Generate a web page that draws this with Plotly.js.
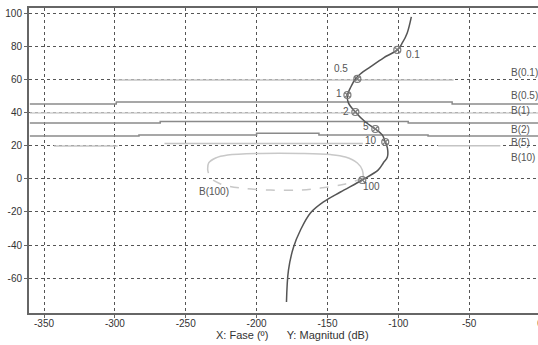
<!DOCTYPE html>
<html>
<head>
<meta charset="utf-8">
<script src="https://cdn.plot.ly/plotly-3.0.1.min.js"></script>
<style>
html,body{margin:0;padding:0;background:#fff;overflow:hidden;}
#chart{width:545px;height:345px;}
</style>
</head>
<body>
<div id="chart"></div>
<script>
// Nichols curve (phase in degrees, magnitude in dB)
const curvePhase = [-90.8,-93.7,-97.2,-100.7,-110.6,-119.7,-126.8,-130.3,-133.8,-135.9,-135.2,-130.3,-123.2,-116.2,-111.3,-109.2,-107.7,-107.7,-110.6,-114.1,-125.4,-140.8,-152.8,-162.0,-169.0,-173.9,-177.5,-178.9];
const curveMag   = [98.2,88.5,82.4,78.2,73.3,67.9,63.6,60.6,55.2,50.9,46.1,40.6,34.5,30.3,26.7,22.4,18.8,13.3,9.7,5.5,-0.6,-7.9,-13.9,-20.6,-30.9,-41.2,-55.2,-74.5];

// frequency markers
const freqLabels = ["0.1","0.5","1","2","5","10","100"];
const freqPhase  = [-100.7,-128.9,-135.9,-130.3,-116.2,-109.2,-125.4];
const freqMag    = [78.2,60.6,50.9,40.6,30.3,22.4,-0.6];
const freqLabelPhase = [-89.4,-140.1,-141.5,-136.6,-122.5,-119.0,-119.0];
const freqLabelMag   = [75.2,66.7,51.5,40.6,32.1,23.6,-4.8];

// B(w) lines
const bNames = ["B(0.1)","B(0.5)","B(1)","B(2)","B(5)","B(10)"];
const bPhase = [
  [-300,-61],
  [-360,-299,-299,-62,-62,0],
  [-360,0],
  [-360,-268,-268,-93,-93,0],
  [-360,-283,-283,-200,-200,-156,-156,-79,-79,0],
  [-343,-298,null,-265,-125,null,-72,-28]
];
const bMag = [
  [60,60],
  [45.5,45.5,46.7,46.7,45.5,45.5],
  [40,40],
  [33.9,33.9,34.8,34.8,33.9,33.9],
  [26.1,26.1,26.7,26.7,27.7,27.7,26.7,26.7,26.1,26.1],
  [20,20,null,21.5,21.5,null,20.2,20.2]
];
const bColors = ["#c4c4c4","#8a8a8a","#cfcfcf","#8a8a8a","#8a8a8a","#c4c4c4"];
const bLabelMag = [64.8,50.3,41.2,29.7,22.4,13.3];
const bLabelPhase = -22;

// B(100) closed contour
const b100TopPhase = [-234.5,-233.8,-228.9,-220.4,-197.2,-169.0,-147.9,-137.3,-128.9,-125.4,-124.6];
const b100TopMag   = [5.5,9.7,12.7,14.5,15.5,15.5,14.8,13.3,9.7,5.5,0.6];
const b100BotPhase = [-124.6,-137.3,-154.9,-169.0,-190.1,-211.3,-225.4,-232.4,-234.5];
const b100BotMag   = [0.6,-3.0,-5.5,-6.7,-6.7,-5.5,-3.0,0.6,5.5];
const b100LabelPhase = -242.3, b100LabelMag = -7.3;

const xTicks = [-350,-300,-250,-200,-150,-100,-50,0];
const yTicks = [-60,-40,-20,0,20,40,60,80,100];

const traces = [];
for (let i = 0; i < bNames.length; i++) {
  traces.push({x: bPhase[i], y: bMag[i], mode: 'lines', connectgaps: false,
    line: {color: bColors[i], width: 1.5}, hoverinfo: 'skip', showlegend: false});
}
traces.push({x: b100TopPhase, y: b100TopMag, mode: 'lines', line: {color: '#c8c8c8', width: 1.5, shape: 'spline'}, showlegend: false});
traces.push({x: b100BotPhase, y: b100BotMag, mode: 'lines', line: {color: '#c8c8c8', width: 1.5, dash: 'dash', shape: 'spline'}, showlegend: false});
traces.push({x: curvePhase, y: curveMag, mode: 'lines', line: {color: '#555', width: 1.5, shape: 'spline'}, showlegend: false});
traces.push({x: freqPhase, y: freqMag, mode: 'markers',
  marker: {symbol: 'circle-x-open', size: 7, color: '#7a7a7a', line: {width: 1.2}}, showlegend: false});

const annotations = [];
for (let i = 0; i < freqLabels.length; i++) {
  annotations.push({x: freqLabelPhase[i], y: freqLabelMag[i], text: freqLabels[i], showarrow: false,
    font: {family: 'Liberation Sans, Arial, sans-serif', size: 10, color: '#555'}});
}
for (let i = 0; i < bNames.length; i++) {
  annotations.push({x: bLabelPhase, y: bLabelMag[i], text: bNames[i], showarrow: false, xanchor: 'left',
    font: {family: 'Liberation Sans, Arial, sans-serif', size: 10, color: '#555'}});
}
annotations.push({x: b100LabelPhase, y: b100LabelMag, text: 'B(100)', showarrow: false, xanchor: 'left',
  font: {family: 'Liberation Sans, Arial, sans-serif', size: 10, color: '#555'}});
annotations.push({xref: 'paper', yref: 'paper', x: 0.515, y: -0.072, yanchor: 'middle',
  text: 'X: Fase (º)&nbsp;&nbsp;&nbsp;&nbsp;&nbsp;&nbsp;Y: Magnitud (dB)', showarrow: false,
  font: {family: 'Liberation Sans, Arial, sans-serif', size: 11, color: '#333'}});

const axisCommon = {
  showline: true, linecolor: '#666', linewidth: 2, mirror: true,
  ticks: 'outside', ticklen: 3, tickcolor: '#666',
  showgrid: true, gridcolor: '#555', gridwidth: 1, griddash: 'dot',
  zeroline: false,
  tickfont: {family: 'Liberation Sans, Arial, sans-serif', size: 10, color: '#333'}
};

const layout = {
  width: 545, height: 345,
  margin: {l: 29, r: 5, t: 8, b: 32},
  paper_bgcolor: '#fff', plot_bgcolor: '#fff',
  xaxis: Object.assign({}, axisCommon, {range: [-360.6, 0], tickmode: 'array', tickvals: xTicks, ticktext: xTicks.map(String), ticklabelstandoff: -3}),
  yaxis: Object.assign({}, axisCommon, {range: [-81.2, 103.6], tickmode: 'array', tickvals: yTicks, ticktext: yTicks.map(String)}),
  annotations: annotations,
  showlegend: false
};

Plotly.newPlot('chart', traces, layout, {displayModeBar: false, staticPlot: true});
</script>
</body>
</html>
